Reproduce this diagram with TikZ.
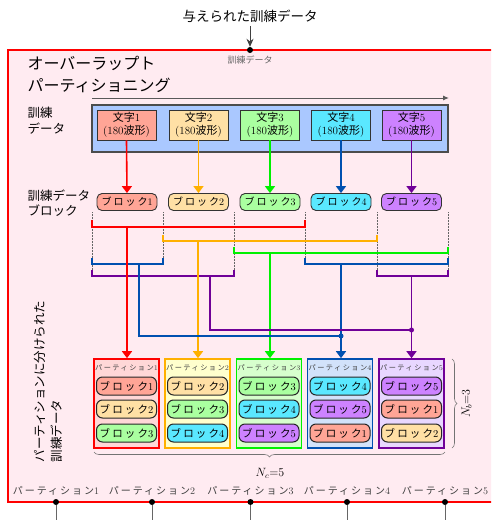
\documentclass[tikz,border=0pt]{standalone}
\usepackage{fontspec}
\newfontfamily\jp{Noto Sans CJK JP}
\newfontfamily\jpw[LetterSpace=20]{Noto Sans CJK JP}
\usetikzlibrary{arrows.meta,decorations.pathreplacing,calc}
\definecolor{framebg}{RGB}{255,235,241}
\definecolor{bluebg}{RGB}{170,200,255}
\definecolor{fa}{RGB}{255,165,150}
\definecolor{fb}{RGB}{255,224,165}
\definecolor{fc}{RGB}{170,255,160}
\definecolor{fd}{RGB}{90,232,255}
\definecolor{fe}{RGB}{205,130,255}
\definecolor{pa}{RGB}{255,215,215}
\definecolor{pb}{RGB}{255,255,205}
\definecolor{pc}{RGB}{215,255,205}
\definecolor{pd}{RGB}{210,226,250}
\definecolor{pe}{RGB}{232,215,255}
\definecolor{la}{RGB}{255,0,0}
\definecolor{lb}{RGB}{255,176,0}
\definecolor{lc}{RGB}{0,240,0}
\definecolor{ld}{RGB}{0,80,176}
\definecolor{le}{RGB}{112,0,152}
\newcommand\blk[1]{{\jpw ブロック}#1}
\tikzset{
  charbox/.style={draw=black!80, line width=0.9pt, minimum width=59pt, minimum height=30pt, inner sep=0pt, align=center, font=\fontsize{11}{13}\selectfont},
  blockA/.style={draw=black!80, line width=0.9pt, rounded corners=5pt, minimum width=60pt, minimum height=17pt, inner sep=0pt, font=\fontsize{10}{12}\selectfont},
  blockB/.style={draw=black!85, line width=1pt, rounded corners=6pt, minimum width=60pt, minimum height=18pt, inner sep=0pt, font=\fontsize{10.5}{12}\selectfont},
  part/.style={line width=1.6pt, minimum width=65pt, minimum height=89pt, inner sep=0pt},
  conn/.style={line width=1.6pt},
  tip/.style={-{Triangle[width=10pt,length=7pt]}},
  bdot/.style={circle, fill=black, inner sep=0pt, minimum size=6pt},
  jdot/.style={circle, inner sep=0pt, minimum size=5pt},
  dotline/.style={gray!80!black, densely dotted, line width=0.5pt},
}
\begin{document}
\begin{tikzpicture}[x=1pt,y=-1pt]
\useasboundingbox (0,0) rectangle (491,520);
\clip (0,0) rectangle (491,520);
\fill[white] (0,0) rectangle (491,520);
\draw[red, line width=2.5pt, fill=framebg] (8,50) rectangle (520,502);

% title
\node[font=\jp\fontsize{13.5}{15}\selectfont] (title) at (250,16) {与えられた訓練データ};
\node[bdot] (top) at (250,50) {};
\draw[black!75, line width=0.8pt, -{Stealth[length=8pt,width=7pt]}] (title) -- (top);
\node[font=\jp\fontsize{9}{10}\selectfont, text=black!60] (tlab) at (250,60) {訓練データ};

\node[anchor=west, align=left, font=\jp\fontsize{16}{22}\selectfont] (head) at (24,74) {オーバーラップト\\パーティショニング};

% gray time arrow
\coordinate (ga) at (92,98);
\coordinate (gb) at (449,98);
\draw[black!65, line width=1pt, -{Latex[length=6pt,width=5pt]}] (ga) -- (gb);

% training data
\node[anchor=west, align=left, font=\jp\fontsize{12.5}{16}\selectfont] (lab1) at (24,121) {訓練\\データ};
\node[draw=black!70, line width=1.2pt, fill=bluebg, minimum width=356pt, minimum height=47pt, inner sep=0pt] (tb) at (270,128.5) {};

\foreach \i/\x/\c in {1/126.5/fa,2/198.5/fb,3/270/fc,4/341/fd,5/411.5/fe}{
  \node[charbox, fill=\c] (c\i) at (\x,125) {{\jp 文字}\i\\(180{\jp 波形})};
}

\node[anchor=west, align=left, font=\jp\fontsize{12.5}{15}\selectfont] (lab2) at (24,203) {訓練データ\\ブロック};
\foreach \i/\x/\c in {1/127/fa,2/198.5/fb,3/270/fc,4/341/fd,5/411.5/fe}{
  \node[blockA, fill=\c] (b\i) at (\x,202) {\blk{\i}};
}
\foreach \i/\c in {1/la,2/lb,3/lc,4/ld,5/le}{
  \draw[conn, \c, tip] (c\i.south) -- (b\i.north);
}

% dotted guides
\foreach \x/\y in {92/276,163/264,234/276,305/264,377/276,448/276}{
  \draw[dotline] (\x,212) -- (\x,\y);
}

% brackets
\draw[conn, la] (92,220) -- (92,227) -- (305,227) -- (305,220);
\draw[conn, lb] (163,235) -- (163,241) -- (377,241) -- (377,235);
\draw[conn, lc] (234,247) -- (234,253) -- (448,253) -- (448,247);
\draw[conn, ld] (92,258) -- (92,264) -- (163,264) -- (163,258);
\draw[conn, ld] (305,258) -- (305,264) -- (448,264) -- (448,258);
\draw[conn, le] (92,270) -- (92,276) -- (234,276) -- (234,270);
\draw[conn, le] (377,270) -- (377,276) -- (448,276) -- (448,270);

% partitions
\foreach \i/\x/\c/\f in {1/126.5/la/pa,2/197.5/lb/pb,3/269/lc/pc,4/340/ld/pd,5/411.5/le/pe}{
  \node[part, draw=\c, fill=\f] (p\i) at (\x,403.5) {};
  \node[font=\fontsize{7.2}{8}\selectfont, text=black!75] (pl\i) at (\x,368) {{\jpw パーティション}\i};
}
\foreach \i/\x in {1/126.5,2/197.5,3/269,4/340,5/411.5}{
  \foreach \k/\y in {1/386,2/409,3/433}{
    \pgfmathtruncatemacro\j{mod(\i+\k-2,5)+1}
    \ifcase\j\or\def\cc{fa}\or\def\cc{fb}\or\def\cc{fc}\or\def\cc{fd}\or\def\cc{fe}\fi
    \node[blockB, fill=\cc] (q\i\k) at (\x,\y) {\blk{\j}};
  }
}

% drops
\coordinate (r1) at (127,227);
\coordinate (o1) at (198,241);
\coordinate (g1) at (270,253);
\coordinate (bl1) at (139,264);
\coordinate (bl2) at (341,264);
\coordinate (pu1) at (210,276);
\coordinate (pu2) at (411.5,276);
\node[jdot, fill=ld] (jb) at (341,336) {};
\node[jdot, fill=le] (jp) at (411.5,330) {};
\draw[conn, la, tip] (r1) -- (r1 |- p1.north);
\draw[conn, lb, tip] (o1) -- (o1 |- p2.north);
\draw[conn, lc, tip] (g1) -- (g1 |- p3.north);
\draw[conn, ld] (bl1) |- (jb.center);
\draw[conn, ld, tip] (bl2) -- (bl2 |- p4.north);
\draw[conn, le] (pu1) |- (jp.center);
\draw[conn, le, tip] (pu2) -- (pu2 |- p5.north);

% braces
\draw[black!55, line width=0.6pt, decorate, decoration={brace, amplitude=5pt}] (452,359) -- (452,448)
  node[midway, right=6pt, rotate=90, anchor=north, font=\fontsize{12}{14}\selectfont, text=black] (nb) {$N_b$=3};
\draw[black!55, line width=0.6pt, decorate, decoration={brace, amplitude=5pt}] (445,452) -- (94,452);
\node[font=\fontsize{12}{14}\selectfont] (nc) at (270,473) {$N_c$=5};

% left vertical label
\node[rotate=90, anchor=west, align=left, font=\jp\fontsize{12.5}{17}\selectfont] (vlab) at (48,466) {パーティションに分けられた\\訓練データ};

% bottom outputs
\foreach \i/\x in {1/56,2/152,3/250.5,4/347,5/445}{
  \node[font=\fontsize{10}{12}\selectfont, text=black!75] (bl\i) at (\x,491) {{\jpw パーティション}\i};
  \node[bdot] (d\i) at (\x,502) {};
  \coordinate (e\i) at (\x,520);
  \draw[black!60, line width=0.8pt] (d\i) -- (e\i);
}
\end{tikzpicture}
\end{document}
